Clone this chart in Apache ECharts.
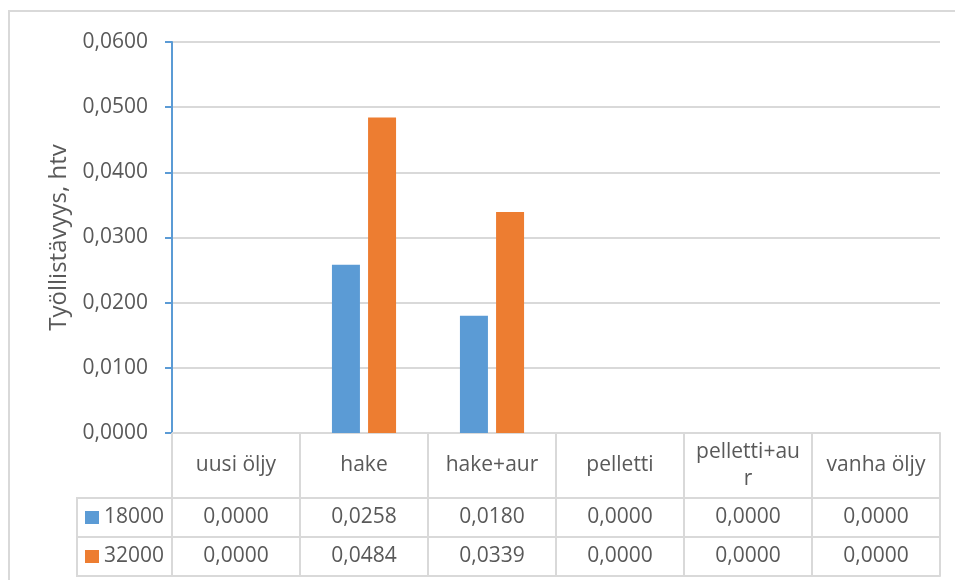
<!DOCTYPE html>
<html>
<head>
<meta charset="utf-8">
<script src="https://cdn.jsdelivr.net/npm/echarts@6/dist/echarts.min.js"></script>
<style>
  html, body { margin: 0; padding: 0; background: #fff; }
  #chart { width: 955px; height: 580px; }
</style>
</head>
<body>
<div id="chart"></div>
<script>
// data
var categories = ["uusi öljy", "hake", "hake+aur", "pelletti", "pelletti+aur", "vanha öljy"];
var seriesNames = ["18000", "32000"];
var values18000 = [0.0000, 0.0258, 0.0180, 0.0000, 0.0000, 0.0000];
var values32000 = [0.0000, 0.0484, 0.0339, 0.0000, 0.0000, 0.0000];
var yTicks = [0, 0.01, 0.02, 0.03, 0.04, 0.05, 0.06];

var font = "Open Sans";
var textColor = "#595959";
var lineGray = "#D9D9D9";
var fs = 21;

// layout
var plotLeft = 172, plotTop = 42, plotRight = 940, plotBottom = 433;
var headerH = 65, rowH = 39;
var tableLeft = 77;

function fmt(v) {
    return v.toFixed(4).replace(".", ",");
}

var chart = echarts.init(document.getElementById("chart"));

// table row axes: one x axis per row, sharing the bar grid
function rowAxis(offset, vals) {
    return {
        type: "category",
        data: categories,
        position: "bottom",
        offset: offset,
        axisLine: { show: true, lineStyle: { color: lineGray, width: 2 } },
        axisTick: { show: false },
        axisLabel: {
            show: !!vals,
            interval: 0,
            margin: rowH / 2,
            verticalAlign: "middle",
            fontFamily: font,
            fontSize: fs,
            color: textColor,
            formatter: function (v, i) {
                return vals ? fmt(vals[i]) : "";
            }
        }
    };
}

chart.setOption({
    animation: false,
    textStyle: { fontFamily: font },
    color: ["#5B9BD5", "#ED7D31"],
    grid: {
        left: plotLeft,
        top: plotTop,
        right: 955 - plotRight,
        bottom: 580 - plotBottom
    },
    legend: {
        orient: "vertical",
        left: 85,
        top: plotBottom + headerH + rowH / 2 - 11,
        padding: 0,
        icon: "rect",
        itemWidth: 14,
        itemHeight: 13,
        itemGap: rowH - 22,
        data: seriesNames,
        textStyle: {
            fontFamily: font,
            fontSize: fs,
            color: textColor,
            lineHeight: 22
        }
    },
    xAxis: [
        {
            type: "category",
            data: categories,
            axisLine: { lineStyle: { color: lineGray, width: 2 } },
            axisTick: {
                show: true,
                length: headerH + 2 * rowH,
                lineStyle: { color: lineGray, width: 2 }
            },
            axisLabel: {
                interval: 0,
                margin: headerH / 2,
                verticalAlign: "middle",
                fontFamily: font,
                fontSize: fs,
                color: textColor,
                lineHeight: 27,
                width: 108,
                overflow: "breakAll"
            }
        },
        rowAxis(headerH, values18000),
        rowAxis(headerH + rowH, values32000),
        rowAxis(headerH + 2 * rowH, null)
    ],
    yAxis: {
        type: "value",
        min: yTicks[0],
        max: yTicks[yTicks.length - 1],
        interval: yTicks[1] - yTicks[0],
        name: "Työllistävyys, htv",
        nameLocation: "middle",
        nameGap: 101,
        nameTextStyle: { fontFamily: font, fontSize: 24, color: textColor },
        axisLine: { show: true, lineStyle: { color: "#5B9BD5", width: 2 } },
        axisTick: { show: true, length: 7, lineStyle: { color: "#5B9BD5", width: 2 } },
        axisLabel: {
            margin: 24,
            fontFamily: font,
            fontSize: fs,
            color: textColor,
            formatter: fmt
        },
        splitLine: { lineStyle: { color: lineGray, width: 2 } }
    },
    series: [
        {
            name: seriesNames[0],
            type: "bar",
            data: values18000,
            barWidth: 28,
            barGap: "29%"
        },
        {
            name: seriesNames[1],
            type: "bar",
            data: values32000,
            barWidth: 28,
            barGap: "29%"
        }
    ],
    graphic: [
        // outer chart border
        {
            type: "rect",
            shape: { x: 9, y: 11, width: 960, height: 600 },
            style: { fill: null, stroke: lineGray, lineWidth: 2 },
            silent: true
        },
        // legend column of the data table
        {
            type: "rect",
            shape: {
                x: tableLeft,
                y: plotBottom + headerH,
                width: plotLeft - tableLeft,
                height: 2 * rowH
            },
            style: { fill: null, stroke: lineGray, lineWidth: 2 },
            silent: true
        },
        {
            type: "line",
            shape: {
                x1: tableLeft,
                y1: plotBottom + headerH + rowH,
                x2: plotLeft,
                y2: plotBottom + headerH + rowH
            },
            style: { stroke: lineGray, lineWidth: 2 },
            silent: true
        }
    ]
});
</script>
</body>
</html>
